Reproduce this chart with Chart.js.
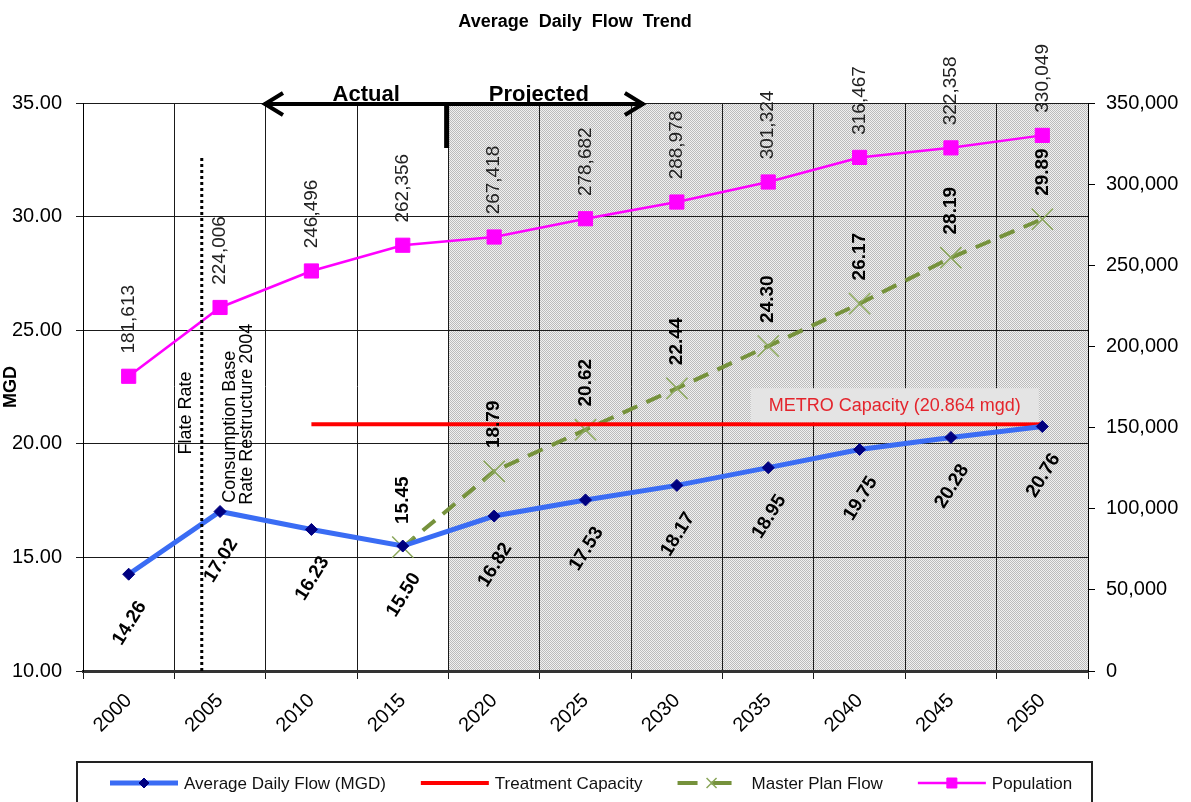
<!DOCTYPE html>
<html>
<head>
<meta charset="utf-8">
<script src="https://cdn.jsdelivr.net/npm/chart.js@4.4.1/dist/chart.umd.min.js"></script>
<style>
html,body{margin:0;padding:0;background:#fff;}
canvas{display:block;}
</style>
</head>
<body>
<canvas id="c" width="1191" height="802"></canvas>
<script>
// ---------- data ----------
const years = ['2000','2005','2010','2015','2020','2025','2030','2035','2040','2045','2050'];
const avgFlow = [14.26, 17.02, 16.23, 15.50, 16.82, 17.53, 18.17, 18.95, 19.75, 20.28, 20.76];
const treatmentCapacity = [null, null, 20.864, 20.864, 20.864, 20.864, 20.864, 20.864, 20.864, 20.864, 20.864];
const masterPlanFlow = [null, null, null, 15.45, 18.79, 20.62, 22.44, 24.30, 26.17, 28.19, 29.89];
const population = [181613, 224006, 246496, 262356, 267418, 278682, 288978, 301324, 316467, 322358, 330049];
const mgdTicks = {min: 10, max: 35, step: 5};
const popTicks = {min: 0, max: 350000, step: 50000};

// annotation anchors (in axis units)
const projectionStartIndex = 3.5;   // boundary between 2015 and 2020
const rateChangeIndex = 0.8;        // year 2004
const capacityLabel = 'METRO Capacity (20.864 mgd)';

// ---------- helpers ----------
const FAMILY = '"Liberation Sans", Arial, Helvetica, sans-serif';
function fnt(size, bold){ return (bold ? 'bold ' : '') + size + 'px ' + FAMILY; }

let stipple = null;
function getStipple(ctx){
  if (stipple) return stipple;
  const c = document.createElement('canvas');
  c.width = 2; c.height = 2;
  const g = c.getContext('2d');
  g.fillStyle = '#f1f1f1'; g.fillRect(0,0,2,2);
  g.fillStyle = '#bcbcbc'; g.fillRect(0,0,1,1); g.fillRect(1,1,1,1);
  stipple = ctx.createPattern(c, 'repeat');
  return stipple;
}

function rotText(ctx, str, x, y, font, color, angleDeg, align){
  ctx.save();
  ctx.translate(x, y);
  ctx.rotate(angleDeg * Math.PI / 180);
  ctx.font = font;
  ctx.fillStyle = color;
  ctx.textAlign = align || 'center';
  ctx.textBaseline = 'middle';
  ctx.fillText(str, 0, 0);
  ctx.restore();
}

function drawMarker(ctx, style, x, y, r, fill, stroke, lw){
  ctx.save();
  ctx.fillStyle = fill; ctx.strokeStyle = stroke; ctx.lineWidth = lw || 1;
  ctx.setLineDash([]);
  ctx.beginPath();
  if (style === 'rectRot'){
    ctx.moveTo(x, y - r); ctx.lineTo(x + r, y); ctx.lineTo(x, y + r); ctx.lineTo(x - r, y); ctx.closePath();
    ctx.fill(); ctx.stroke();
  } else if (style === 'rect'){
    ctx.rect(x - r, y - r, 2*r, 2*r); ctx.fill(); ctx.stroke();
  } else if (style === 'crossRot'){
    ctx.moveTo(x - r, y - r); ctx.lineTo(x + r, y + r);
    ctx.moveTo(x + r, y - r); ctx.lineTo(x - r, y + r);
    ctx.stroke();
  }
  ctx.restore();
}

// ---------- plugins ----------
const backgroundPlugin = {
  id: 'bgShade',
  beforeDraw(chart){
    const {ctx, chartArea: a, scales: {x}} = chart;
    ctx.save();
    ctx.fillStyle = '#fff';
    ctx.fillRect(0, 0, chart.width, chart.height);
    const x0 = x.getPixelForValue(projectionStartIndex);
    ctx.fillStyle = getStipple(ctx);
    ctx.fillRect(x0, a.top, a.right - x0, a.bottom - a.top);
    ctx.restore();
  }
};

const labelStyles = {
  0: {fmt: v => v.toFixed(2), font: fnt(19, true), color: '#000', dx: 1, dy: 49, rot: -58},
  2: {fmt: v => v.toFixed(2), font: fnt(19, true), color: '#000', dx: 0, dy: -47, rot: -90},
  3: {fmt: v => v.toLocaleString('en-US'), font: fnt(19, false), color: '#222', dx: 0, dy: -57, rot: -90}
};

const annotationPlugin = {
  id: 'annotations',
  afterDatasetsDraw(chart){
    const {ctx, chartArea: a, scales: {x, y}} = chart;
    ctx.save();

    // dotted rate-change line (2004)
    const xd = x.getPixelForValue(rateChangeIndex);
    ctx.strokeStyle = '#000';
    ctx.lineWidth = 3;
    ctx.setLineDash([3, 3]);
    ctx.beginPath();
    ctx.moveTo(xd, y.getPixelForValue(10));
    ctx.lineTo(xd, y.getPixelForValue(32.6));
    ctx.stroke();
    ctx.setLineDash([]);

    // Actual / Projected arrow
    const ya = a.top + 1;
    const xl = x.getPixelForValue(1.47);
    const xr = x.getPixelForValue(5.65);
    const xm = x.getPixelForValue(projectionStartIndex - 0.02);
    ctx.lineWidth = 4;
    ctx.lineCap = 'butt';
    ctx.beginPath();
    ctx.moveTo(xl + 1, ya); ctx.lineTo(xr - 1, ya);
    ctx.stroke();
    ctx.lineJoin = 'miter';
    ctx.beginPath();
    ctx.moveTo(xl + 20, ya - 11); ctx.lineTo(xl + 2, ya); ctx.lineTo(xl + 20, ya + 11);
    ctx.moveTo(xr - 20, ya - 11); ctx.lineTo(xr - 2, ya); ctx.lineTo(xr - 20, ya + 11);
    ctx.stroke();
    ctx.lineWidth = 5;
    ctx.beginPath();
    ctx.moveTo(xm, ya - 2); ctx.lineTo(xm, y.getPixelForValue(33.02));
    ctx.stroke();

    ctx.font = fnt(22, true);
    ctx.fillStyle = '#000';
    ctx.textAlign = 'center';
    ctx.textBaseline = 'alphabetic';
    ctx.fillText('Actual', x.getPixelForValue(2.6), a.top - 2);
    ctx.fillText('Projected', x.getPixelForValue(4.49), a.top - 2);

    // vertical annotation texts
    rotText(ctx, 'Flate Rate', x.getPixelForValue(0.63), y.getPixelForValue(21.36), fnt(18,false), '#000', -90, 'center');
    rotText(ctx, 'Consumption Base', x.getPixelForValue(1.11), y.getPixelForValue(20.75), fnt(18,false), '#000', -90, 'center');
    rotText(ctx, 'Rate Restructure 2004', x.getPixelForValue(1.30), y.getPixelForValue(21.3), fnt(18,false), '#000', -90, 'center');

    // METRO capacity label box
    const cx = x.getPixelForValue(8.385);
    const cy = y.getPixelForValue(21.7);
    ctx.fillStyle = '#e4e4e4';
    ctx.fillRect(cx - 144, cy - 17, 288, 34);
    ctx.font = fnt(18, false);
    ctx.fillStyle = '#e4242c';
    ctx.textAlign = 'center';
    ctx.textBaseline = 'middle';
    ctx.fillText(capacityLabel, cx, cy + 1);

    // data labels
    chart.data.datasets.forEach((ds, i) => {
      const st = labelStyles[i];
      if (!st) return;
      const meta = chart.getDatasetMeta(i);
      meta.data.forEach((pt, j) => {
        const v = ds.data[j];
        if (v === null || v === undefined) return;
        rotText(ctx, st.fmt(v), pt.x + st.dx, pt.y + st.dy, st.font, st.color, st.rot, 'center');
      });
    });
    ctx.restore();
  }
};

const titleLegendPlugin = {
  id: 'titleLegend',
  afterDraw(chart){
    const {ctx} = chart;
    ctx.save();
    // title
    ctx.font = fnt(18, true);
    ctx.fillStyle = '#000';
    ctx.textAlign = 'center';
    ctx.textBaseline = 'middle';
    ctx.fillText('Average  Daily  Flow  Trend', 575, 22);

    // legend box
    const bx = 77, by = 762, bw = 1015;
    ctx.fillStyle = '#fff';
    ctx.fillRect(bx, by, bw, chart.height - by + 10);
    ctx.strokeStyle = '#222';
    ctx.lineWidth = 2;
    ctx.strokeRect(bx, by, bw, chart.height - by + 20);

    const ly = 783;
    let lx = 110;
    const sample = 68, gap = 6, itemGap = 35;
    ctx.font = fnt(17, false);
    chart.data.datasets.forEach((ds) => {
      ctx.save();
      ctx.strokeStyle = ds.borderColor;
      ctx.lineWidth = ds.borderWidth;
      ctx.setLineDash(ds.borderDash ? [20, 14] : []);
      ctx.beginPath();
      ctx.moveTo(lx, ly); ctx.lineTo(lx + sample, ly);
      ctx.stroke();
      ctx.restore();
      const mx = lx + sample / 2;
      if (ds.pointStyle === 'rectRot') drawMarker(ctx, 'rectRot', mx, ly, 5, ds.pointBackgroundColor, ds.pointBorderColor, 1);
      else if (ds.pointStyle === 'rect') drawMarker(ctx, 'rect', mx, ly, 5, ds.pointBackgroundColor, ds.pointBorderColor, 1);
      else if (ds.pointStyle === 'crossRot') drawMarker(ctx, 'crossRot', mx, ly, 5, 'transparent', ds.pointBorderColor, 1.5);
      ctx.fillStyle = '#111';
      ctx.textAlign = 'left';
      ctx.textBaseline = 'middle';
      ctx.fillText(ds.label, lx + sample + gap, ly + 1);
      lx += sample + gap + ctx.measureText(ds.label).width + itemGap;
    });
    ctx.restore();
  }
};

// ---------- chart ----------
new Chart(document.getElementById('c'), {
  type: 'line',
  data: {
    labels: years,
    datasets: [
      {
        label: 'Average Daily Flow (MGD)', data: avgFlow, yAxisID: 'y',
        borderColor: '#3a6cf4', borderWidth: 5, tension: 0,
        pointStyle: 'rectRot', pointRadius: 6, pointBackgroundColor: '#000080',
        pointBorderColor: '#000080', pointBorderWidth: 1
      },
      {
        label: 'Treatment Capacity', data: treatmentCapacity, yAxisID: 'y',
        borderColor: '#ff0000', borderWidth: 4, pointRadius: 0, tension: 0
      },
      {
        label: 'Master Plan Flow', data: masterPlanFlow, yAxisID: 'y',
        borderColor: '#76923c', borderWidth: 4, borderDash: [16, 10], tension: 0,
        pointStyle: 'crossRot', pointRadius: 15, pointBorderColor: '#8aa65a',
        pointBackgroundColor: 'transparent', pointBorderWidth: 1.5
      },
      {
        label: 'Population', data: population, yAxisID: 'y1',
        borderColor: '#ff00ff', borderWidth: 2.5, tension: 0,
        pointStyle: 'rect', pointRadius: 10, pointBackgroundColor: '#ff00ff',
        pointBorderColor: '#ff00ff', pointBorderWidth: 1
      }
    ]
  },
  options: {
    responsive: false,
    animation: false,
    devicePixelRatio: 1,
    layout: {padding: {top: 103, left: 0, right: 0, bottom: 0}},
    plugins: {legend: {display: false}, title: {display: false}, tooltip: {enabled: false}},
    scales: {
      x: {
        offset: true,
        grid: {offset: true, color: '#1a1a1a', lineWidth: 1, drawTicks: true, tickLength: 8},
        border: {color: '#333', width: 3},
        ticks: {
          autoSkip: false, minRotation: 45, maxRotation: 45, padding: 10, labelOffset: 0,
          color: '#000', font: {family: FAMILY, size: 20}
        },
        afterFit(s){ s.height = 131; }
      },
      y: {
        position: 'left',
        min: mgdTicks.min, max: mgdTicks.max,
        ticks: {
          stepSize: mgdTicks.step, padding: 14, color: '#000',
          font: {family: FAMILY, size: 20},
          callback: v => Number(v).toFixed(2)
        },
        grid: {color: '#1a1a1a', lineWidth: 1, tickLength: 7},
        border: {color: '#000', width: 1},
        title: {display: true, text: 'MGD', color: '#000', font: {family: FAMILY, size: 18, weight: 'bold'}, padding: {top: 0, bottom: 0}},
        afterFit(s){ s.width = 83; }
      },
      y1: {
        position: 'right',
        min: popTicks.min, max: popTicks.max,
        ticks: {
          stepSize: popTicks.step, padding: 11, color: '#000',
          font: {family: FAMILY, size: 20},
          callback: v => Number(v).toLocaleString('en-US')
        },
        grid: {drawOnChartArea: false, color: '#000', tickLength: 7},
        border: {color: '#000', width: 1},
        afterFit(s){ s.width = 103; }
      }
    }
  },
  plugins: [backgroundPlugin, annotationPlugin, titleLegendPlugin]
});
</script>
</body>
</html>
